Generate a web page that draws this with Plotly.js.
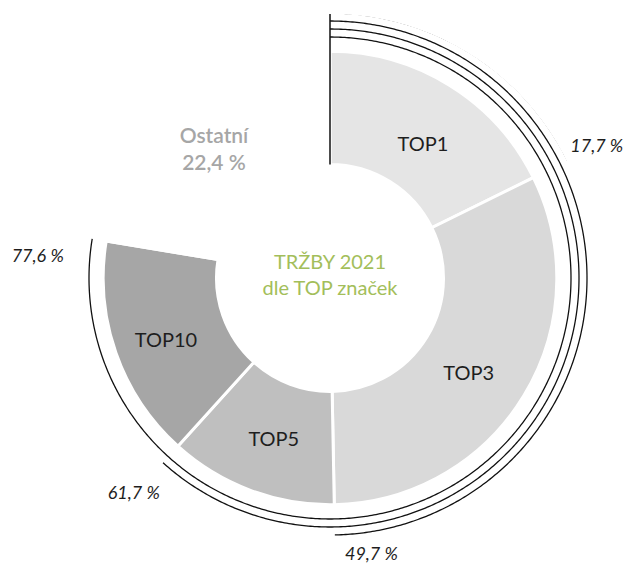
<!DOCTYPE html>
<html>
<head>
<meta charset="utf-8">
<script src="https://cdn.plot.ly/plotly-3.0.1.min.js"></script>
<style>html,body{margin:0;padding:0;background:#fff;}#chart{width:625px;height:564px;}</style>
</head>
<body>
<div id="chart"></div>
<script>
// ---- data ----
const categories = ["TOP1", "TOP3", "TOP5", "TOP10", "Ostatní"];
const shares = [17.7, 32.0, 12.0, 15.9, 22.4];           // % of sales per segment
const segmentColors = ["#e5e5e5", "#d9d9d9", "#bfbfbf", "#a6a6a6", "#ffffff"];
const centerTitle = ["TRŽBY 2021", "dle TOP značek"];

// ---- derived ----
const fmt = v => v.toFixed(1).replace(".", ",") + " %";
const cumEnd = [];
let acc = 0;
shares.forEach(s => { acc = Math.round((acc + s) * 10) / 10; cumEnd.push(acc); });
const cumStart = cumEnd.map((c, i) => Math.round((c - shares[i]) * 10) / 10);
const toDeg = p => p * 3.6;
const midDeg = shares.map((s, i) => toDeg(cumStart[i] + s / 2));
const widthDeg = shares.map(toDeg);

// ---- style ----
const R_IN = 113.5, R_OUT = 226.8, R_MAX = 264;
const arcRadii = [241, 249, 257, 265];         // innermost = largest cumulative
const labelR = [161.5, 169, 172.4, 176, 172];  // label radius per segment
const labelNudge = [3.3, 3.5, -1.5, -2.0, -2.1];
const pctLabelR = [297, 281, 292, 293];        // for 17,7 / 49,7 / 61,7 / 77,6
const pctThetaNudge = [0.2, -7.4, 0.1, -5.3];
const FONT = "Lato, 'Open Sans', sans-serif";
const W = 625, H = 564, CX = 330, CY = 278;

const traces = [];
traces.push({
  type: "barpolar",
  theta: midDeg,
  width: widthDeg,
  r: shares.map(() => R_OUT - R_IN),
  base: R_IN,
  marker: { color: segmentColors, line: { color: "#ffffff", width: 3 } },
  hoverinfo: "skip",
  showlegend: false
});

// cumulative arcs for TOP1, TOP3, TOP5, TOP10
const topIdx = [0, 1, 2, 3];
topIdx.forEach(i => {
  const end = toDeg(cumEnd[i]);
  const th = [], rr = [];
  for (let a = 0; a <= end; a += 0.5) { th.push(a); rr.push(arcRadii[3 - i]); }
  th.push(end); rr.push(arcRadii[3 - i]);
  traces.push({
    type: "scatterpolar", mode: "lines", theta: th, r: rr,
    line: { color: "#111", width: 1.3 }, hoverinfo: "skip", showlegend: false, cliponaxis: false
  });
});

// start line at 12 o'clock
traces.push({
  type: "scatterpolar", mode: "lines",
  theta: [toDeg(cumStart[0]), toDeg(cumStart[0])],
  r: [R_IN, arcRadii[3]],
  line: { color: "#111", width: 1.5 }, hoverinfo: "skip", showlegend: false, cliponaxis: false
});

// segment labels
traces.push({
  type: "scatterpolar", mode: "text",
  theta: topIdx.map(i => midDeg[i] + labelNudge[i]),
  r: topIdx.map(i => labelR[i]),
  text: topIdx.map(i => categories[i]),
  textposition: "middle center",
  textfont: { family: FONT, size: 20, color: "#1e1e1e" },
  hoverinfo: "skip", showlegend: false, cliponaxis: false
});

// Ostatní label
traces.push({
  type: "scatterpolar", mode: "text",
  theta: [midDeg[4] + labelNudge[4]], r: [labelR[4]],
  text: [categories[4] + "<br>" + fmt(shares[4])],
  textposition: "middle center",
  textfont: { family: FONT, size: 21, color: "#a6a6a6", weight: 600 },
  hoverinfo: "skip", showlegend: false, cliponaxis: false
});

// center title
traces.push({
  type: "scatterpolar", mode: "text",
  theta: [0], r: [1],
  text: [centerTitle.join("<br>")],
  textposition: "middle center",
  textfont: { family: FONT, size: 20, color: "#a3be5a" },
  hoverinfo: "skip", showlegend: false, cliponaxis: false
});

// cumulative percentage labels (outside the ring, on a pixel-scaled cartesian overlay)
const rad = d => d * Math.PI / 180;
const pctTheta = topIdx.map(i => toDeg(cumEnd[i]) + pctThetaNudge[i]);
traces.push({
  type: "scatter", mode: "text",
  x: topIdx.map(i => pctLabelR[i] * Math.sin(rad(pctTheta[i]))),
  y: topIdx.map(i => pctLabelR[i] * Math.cos(rad(pctTheta[i]))),
  text: topIdx.map(i => fmt(cumEnd[i])),
  textposition: "middle center",
  textfont: { family: FONT, size: 18, color: "#1e1e1e", style: "italic" },
  hoverinfo: "skip", showlegend: false, cliponaxis: false
});

const layout = {
  width: W, height: H,
  margin: { l: 0, r: 0, t: 0, b: 0 },
  paper_bgcolor: "#fff",
  plot_bgcolor: "rgba(0,0,0,0)",
  showlegend: false,
  xaxis: { range: [-CX, W - CX], visible: false, domain: [0, 1], fixedrange: true },
  yaxis: { range: [-(H - CY), CY], visible: false, domain: [0, 1], fixedrange: true },
  polar: {
    domain: {
      x: [(CX - R_MAX) / W, (CX + R_MAX) / W],
      y: [(H - CY - R_MAX) / H, (H - CY + R_MAX) / H]
    },
    bgcolor: "rgba(0,0,0,0)",
    radialaxis: { range: [0, R_MAX], visible: false, showgrid: false, showline: false, showticklabels: false, ticks: "" },
    angularaxis: { rotation: 90, direction: "clockwise", thetaunit: "degrees", visible: false, showgrid: false, showline: false, showticklabels: false, ticks: "" }
  }
};

Plotly.newPlot("chart", traces, layout, { displayModeBar: false, staticPlot: true });
</script>
</body>
</html>
